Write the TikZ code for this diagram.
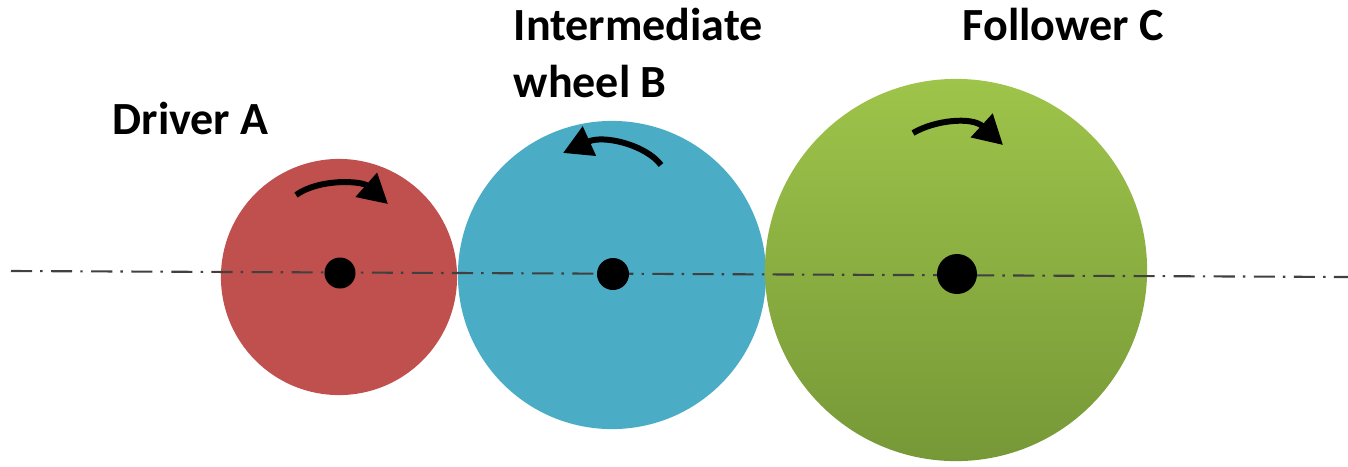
\documentclass[tikz,border=0pt]{standalone}
\usepackage{fontspec}
\setmainfont{Carlito}
\usetikzlibrary{arrows.meta}
\definecolor{driverred}{HTML}{C0504D}
\definecolor{wheelblue}{HTML}{4BACC6}
\definecolor{greentop}{RGB}{158,196,74}
\definecolor{greenbottom}{RGB}{118,152,55}

\begin{document}
\begin{tikzpicture}[x=0.01cm, y=-0.01cm,
  wheel/.style={circle, inner sep=0pt, draw=none},
  hub/.style={circle, fill=black, inner sep=0pt},
  wheelname/.style={font=\fontsize{13.1}{16.2}\selectfont\bfseries, inner sep=0pt, anchor=base west, align=left},
  spin/.style={line width=1.7pt, -{Triangle[length=0.29cm, width=0.31cm]}},
  axisline/.style={line width=0.6pt, black!75, dash pattern=on 6pt off 2.3pt on 0.7pt off 2.4pt}]

% Manually size the picture
\useasboundingbox (0, 0) rectangle (1348, 466);

% Wheels
\node[wheel, fill=driverred, minimum size=2.36cm] (driverA) at (339, 277) {};
\node[wheel, fill=wheelblue, minimum size=3.08cm] (wheelB) at (612, 275) {};
\node[wheel, top color=greentop, bottom color=greenbottom, minimum size=3.82cm] (followerC) at (956, 270) {};

% Centre line
\coordinate (axisW) at (11, 271);
\coordinate (axisE) at (1348, 277);
\draw[axisline] (axisW) -- (axisE);

% Hubs
\node[hub, minimum size=0.31cm] (hubA) at (340, 273) {};
\node[hub, minimum size=0.32cm] (hubB) at (613, 274) {};
\node[hub, minimum size=0.40cm] (hubC) at (957, 274) {};

% Turning directions
\draw[spin] (296, 195) .. controls (320, 178) and (362, 181) .. (388, 204);
\draw[spin] (661, 165) .. controls (646, 145) and (604, 134.5) .. (563, 153);
\draw[spin] (913, 133) .. controls (935, 120) and (972, 116.5) .. (1003, 145);

% Names
\node[wheelname] (nameA) at (112, 134) {Driver A};
\node[wheelname] (nameB) at (513, 97) {Intermediate\\wheel B};
\node[wheelname] (nameC) at (962, 40) {Follower C};

\end{tikzpicture}
\end{document}
